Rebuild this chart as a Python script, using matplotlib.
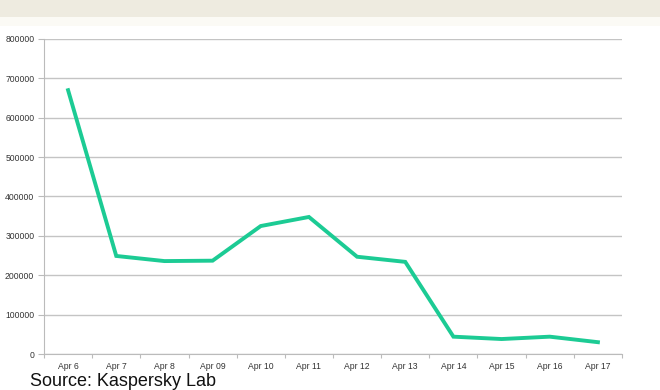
import numpy as np
import matplotlib.pyplot as plt
from matplotlib.patches import Rectangle

# データ
days = ["Apr 6", "Apr 7", "Apr 8", "Apr 09", "Apr 10", "Apr 11",
        "Apr 12", "Apr 13", "Apr 14", "Apr 15", "Apr 16", "Apr 17"]
counts = [670000, 249000, 236000, 237000, 325000, 348000,
          247000, 234000, 44000, 38000, 44000, 30000]
yticks = [0, 100000, 200000, 300000, 400000, 500000, 600000, 700000, 800000]

plt.rcParams['font.family'] = ['Liberation Sans', 'DejaVu Sans']

fig = plt.figure(figsize=(6.6, 3.9), dpi=100)
fig.patch.set_facecolor("white")

# 上の帯
fig.patches.append(Rectangle((0, 1 - 17 / 390), 1, 17 / 390, transform=fig.transFigure,
                             facecolor="#eeebe0", edgecolor="none", zorder=0))
fig.patches.append(Rectangle((0, 1 - 26 / 390), 1, 9 / 390, transform=fig.transFigure,
                             facecolor="#fbfaf5", edgecolor="none", zorder=0))

ax = fig.add_axes([44 / 660, 36 / 390, 578 / 660, 315 / 390])
x = np.arange(len(days))
ax.plot(x, counts, color="#1ccb94", linewidth=2.8, solid_joinstyle="miter", zorder=3)

ax.set_xlim(-0.5, len(days) - 0.5)
ax.set_ylim(0, 800000)
ax.set_yticks(yticks)
ax.set_yticklabels([str(v) for v in yticks], fontsize=6.2, color="#333333")
ax.set_xticks(x)
ax.set_xticklabels(days, fontsize=6.2, color="#333333")
ax.tick_params(axis="x", which="major", length=0, pad=6)
ax.set_xticks(np.arange(-0.5, len(days)), minor=True)
ax.tick_params(axis="x", which="minor", length=3, color="#bbbbbb", width=0.8)
ax.tick_params(axis="y", length=4, color="#bbbbbb", width=0.8, pad=3)

ax.grid(axis="y", color="#c4c4c4", linewidth=1)
ax.set_axisbelow(True)
for s in ["top", "right"]:
    ax.spines[s].set_visible(False)
ax.spines["left"].set_color("#bbbbbb")
ax.spines["bottom"].set_color("#bbbbbb")

fig.text(30 / 660, 0, "Source: Kaspersky Lab", fontsize=13, color="#111111",
         ha="left", va="bottom")

fig.savefig("out.png", dpi=100)
